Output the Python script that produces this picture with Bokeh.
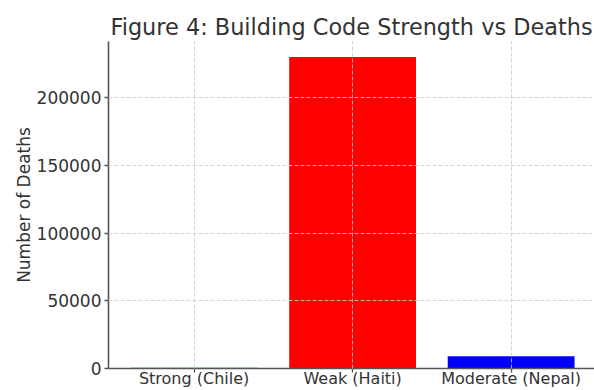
from bokeh.plotting import figure
from bokeh.models import FixedTicker, Range1d, BasicTickFormatter
from bokeh.embed import file_html
from bokeh.resources import INLINE

# Deaths by building-code strength
categories = ["Strong (Chile)", "Weak (Haiti)", "Moderate (Nepal)"]
deaths = [525, 230000, 9000]
bar_colors = ["green", "red", "blue"]
y_ticks = [0, 50000, 100000, 150000, 200000]

positions = list(range(len(categories)))
font = "DejaVu Sans"
text_color = "#333333"
spine_color = "#555555"
label_size = "17px"

p = figure(
    width=594, height=390,
    output_backend="svg", toolbar_location=None,
    x_range=Range1d(-0.54, 2.526),
    y_range=Range1d(0, max(deaths) * 1.05),
    title="Figure 4: Building Code Strength vs Deaths",
)
p.min_border_left = 108
p.min_border_right = 0
p.min_border_top = 41
p.min_border_bottom = 22
p.outline_line_color = None
p.background_fill_color = "white"
p.border_fill_color = "white"

p.vbar(x=positions, top=deaths, width=0.8, fill_color=bar_colors, line_color=None)

# title
p.title.text_font = font
p.title.text_font_size = "22.4px"
p.title.text_font_style = "normal"
p.title.text_color = text_color
p.title.align = "center"
p.title.standoff = 4

# x axis
p.xaxis.ticker = FixedTicker(ticks=positions)
p.xaxis.major_label_overrides = {i: c for i, c in zip(positions, categories)}

# y axis
p.yaxis.ticker = FixedTicker(ticks=y_ticks)
p.yaxis.formatter = BasicTickFormatter(use_scientific=False)
p.yaxis.axis_label = "Number of Deaths"

for ax in (p.xaxis, p.yaxis):
    ax.axis_line_color = spine_color
    ax.axis_line_width = 1.6
    ax.major_tick_line_color = spine_color
    ax.major_tick_line_width = 1.3
    ax.major_tick_out = 4
    ax.major_tick_in = 0
    ax.minor_tick_line_color = None
    ax.major_label_text_font = font
    ax.major_label_text_font_size = label_size
    ax.major_label_text_color = text_color
    ax.axis_label_text_font = font
    ax.axis_label_text_font_size = label_size
    ax.axis_label_text_font_style = "normal"
    ax.axis_label_text_color = text_color

# category names sit tight under the axis so the frame keeps its height
p.xaxis.major_label_text_font_size = "16px"
p.xaxis.major_label_standoff = -4
p.yaxis.major_label_standoff = 3
p.yaxis.axis_label_standoff = 0

# dashed grid drawn over the bars
for g in (p.xgrid, p.ygrid):
    g.grid_line_color = "#cccccc"
    g.grid_line_dash = "4 2"
    g.grid_line_width = 0.8
    g.level = "overlay"
p.xgrid.ticker = FixedTicker(ticks=positions)
p.ygrid.ticker = FixedTicker(ticks=y_ticks)

open("out.html", "w").write(file_html(p, INLINE))
